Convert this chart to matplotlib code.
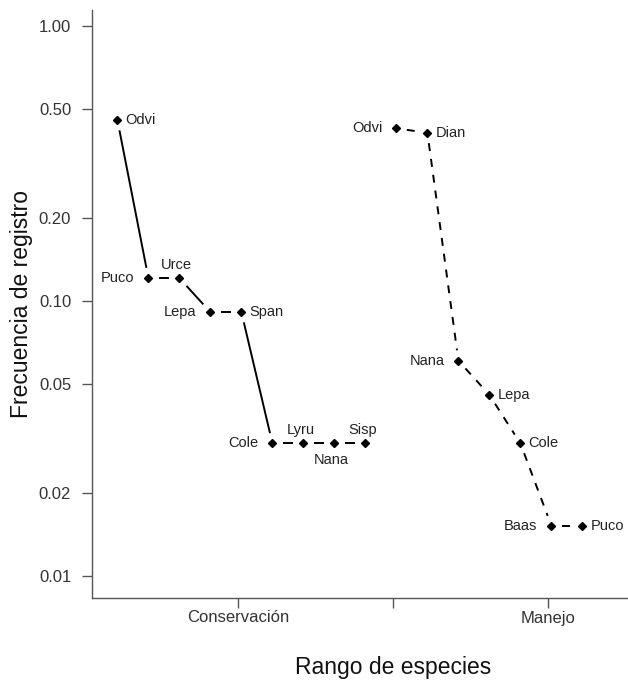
import numpy as np
import matplotlib.pyplot as plt

plt.rcParams['font.family'] = ['Liberation Sans', 'DejaVu Sans']

# Conservacion: ranked species and relative frequency
cons_species = ["Odvi", "Puco", "Urce", "Lepa", "Span", "Cole", "Lyru", "Nana", "Sisp"]
cons_freq = [0.455, 0.121, 0.121, 0.091, 0.091, 0.0303, 0.0303, 0.0303, 0.0303]

# Manejo
man_species = ["Odvi", "Dian", "Nana", "Lepa", "Cole", "Baas", "Puco"]
man_freq = [0.424, 0.409, 0.0606, 0.0455, 0.0303, 0.0152, 0.0152]

y_ticks = [0.01, 0.02, 0.05, 0.10, 0.20, 0.50, 1.00]
x_tick_labels = ["Conservación", "", "Manejo"]

# where each label sits relative to its point
cons_place = ["right", "left", "above", "left", "right", "left", "above", "below", "above"]
man_place = ["left", "right", "left", "right", "right", "left", "right"]

cons_x = np.arange(1, len(cons_freq) + 1)
man_x = np.arange(len(cons_freq) + 1, len(cons_freq) + len(man_freq) + 1)

fig = plt.figure(figsize=(6.28, 6.83), dpi=100)
W, H = 628, 683
# plot region runs off the right edge like the original
ax = fig.add_axes([92 / W, (H - 598) / H, (694 - 92) / W, (598 - 10) / H])
ax.set_yscale('log')
ax.set_xlim(0.18, 19.6)
ax.set_ylim(0.0083, 1.1435)

spine_col = '#555555'
for s in ['top', 'right']:
    ax.spines[s].set_visible(False)
for s in ['left', 'bottom']:
    ax.spines[s].set_color(spine_col)
    ax.spines[s].set_linewidth(1.0)

ax.set_yticks(y_ticks)
ax.set_yticklabels(["%.2f" % v for v in y_ticks])
ax.minorticks_off()
ax.set_xticks([4.9, 9.9, 14.9])
ax.set_xticklabels(x_tick_labels)
ax.tick_params(axis='y', length=7, width=1, color=spine_col, labelsize=12,
               labelcolor='#333333', pad=8)
ax.tick_params(axis='x', length=7, width=1, color=spine_col, labelsize=12,
               labelcolor='#333333', pad=2)

ax.set_ylabel("Frecuencia de registro", fontsize=16.5, color='#111111', va='center')
ax.yaxis.set_label_coords((22 - 92) / (694 - 92), 0.5)
ax.set_xlabel("Rango de especies", fontsize=16.5, color='#111111', labelpad=22)


def gapped_lines(x, y, ls, gap=10.5):
    # like R type="b": segments stop short of the points
    pts = ax.transData.transform(np.column_stack([x, y]))
    inv = ax.transData.inverted()
    for p0, p1 in zip(pts[:-1], pts[1:]):
        d = p1 - p0
        u = d / np.hypot(d[0], d[1])
        seg = inv.transform([p0 + u * gap, p1 - u * gap])
        ax.plot(seg[:, 0], seg[:, 1], color='black', lw=1.4, ls=ls,
                solid_capstyle='butt', dash_capstyle='butt', zorder=2)


gapped_lines(cons_x, cons_freq, '-')
gapped_lines(man_x, man_freq, (0, (4.1, 4.1)))

ax.plot(cons_x, cons_freq, 'D', ms=3.6, color='black', zorder=3)
ax.plot(man_x, man_freq, 'D', ms=3.6, color='black', zorder=3)

offsets = {
    "right": ((8, 0), 'left'),
    "left": ((-14, 0), 'right'),
    "above": ((-3, 13), 'center'),
    "below": ((-3, -17), 'center'),
}


def put_labels(x, y, names, places):
    for xi, yi, name, pl in zip(x, y, names, places):
        (dx, dy), ha = offsets[pl]
        ax.annotate(name, (xi, yi), xytext=(dx * 0.72, dy * 0.72),
                    textcoords='offset points', ha=ha, va='center',
                    fontsize=10.5, color='#222222', zorder=4)


put_labels(cons_x, cons_freq, cons_species, cons_place)
put_labels(man_x, man_freq, man_species, man_place)

fig.savefig("out.png", dpi=100)
